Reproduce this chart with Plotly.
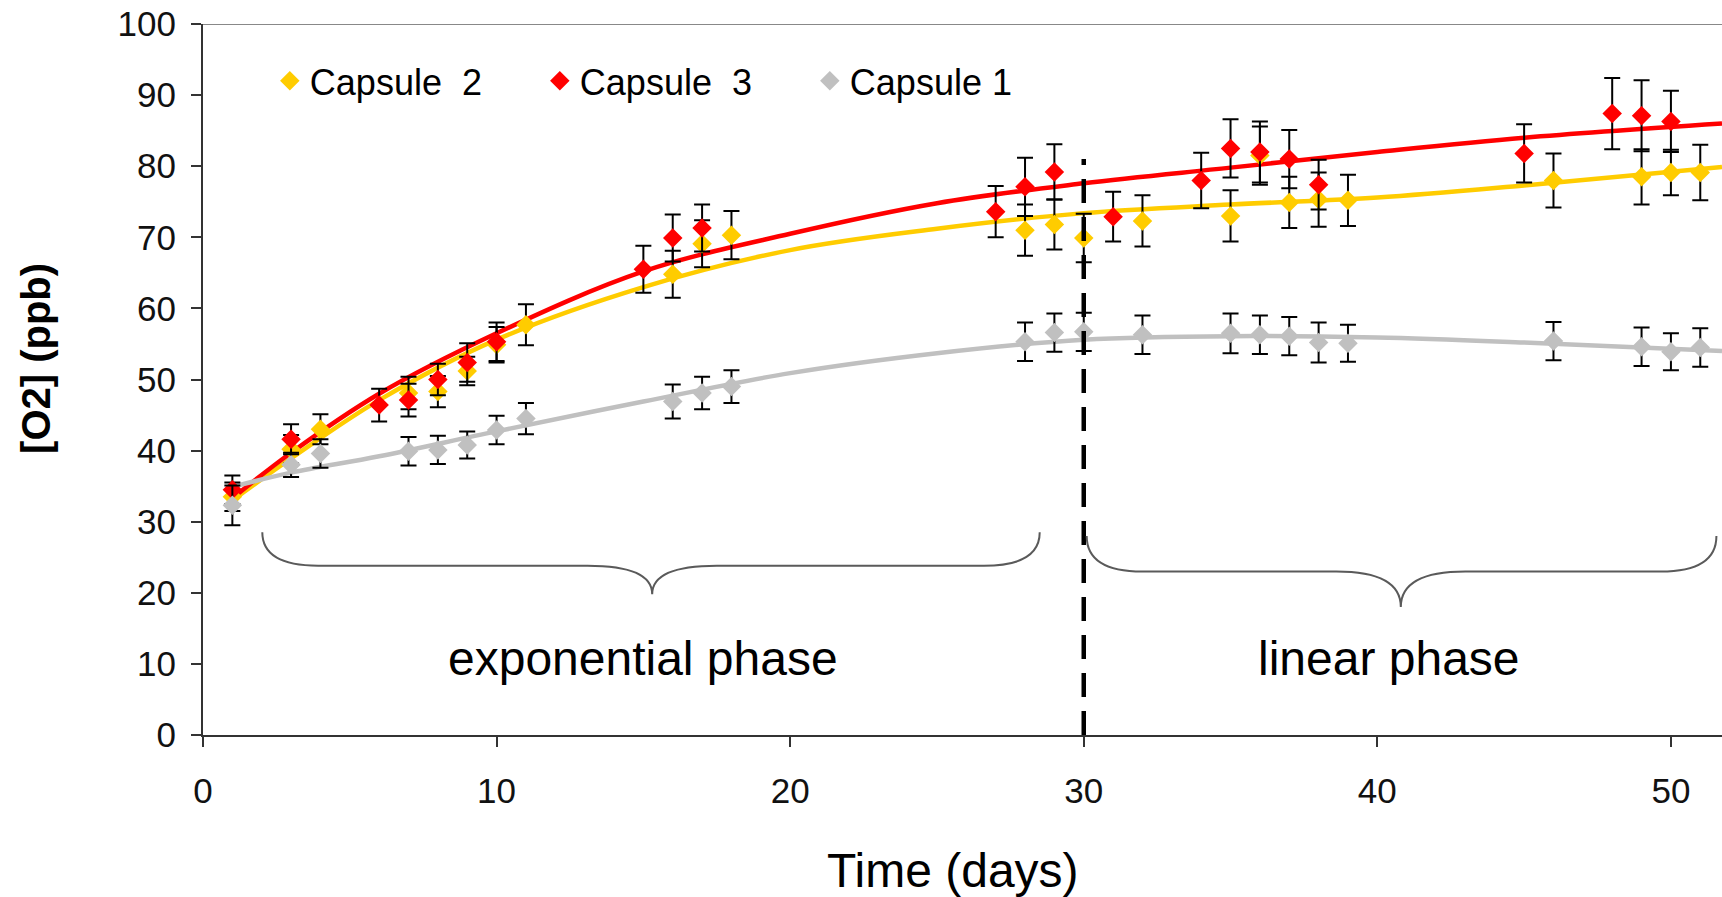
import plotly.graph_objects as go

# ---------------- data ----------------
days_c2 = [1, 3, 4, 7, 8, 9, 10, 11, 16, 17, 18, 28, 29, 30, 32, 35, 36, 37, 38, 39, 46, 49, 50, 51]
o2_c2 = [33.5, 40.2, 43.0, 48.1, 48.3, 51.2, 54.9, 57.7, 64.8, 69.1, 70.3, 71.0, 71.8, 69.9,
         72.3, 73.0, 81.5, 74.9, 75.3, 75.2, 78.0, 78.5, 79.1, 79.1]
err_c2 = [2.0, 2.0, 2.1, 2.3, 2.2, 2.0, 2.5, 2.9, 3.3, 3.3, 3.4, 3.6, 3.5, 3.4,
          3.6, 3.6, 4.1, 3.6, 3.8, 3.6, 3.8, 3.9, 3.2, 3.9]

days_c3 = [1, 3, 6, 7, 8, 9, 10, 15, 16, 17, 27, 28, 29, 31, 34, 35, 36, 37, 38, 45, 48, 49, 50]
o2_c3 = [34.5, 41.6, 46.4, 47.1, 50.0, 52.4, 55.3, 65.5, 69.9, 71.3, 73.6, 77.1, 79.2, 72.9,
         78.0, 82.5, 82.0, 81.0, 77.4, 81.8, 87.4, 87.1, 86.3]
err_c3 = [2.0, 2.1, 2.3, 2.3, 2.2, 2.7, 2.7, 3.3, 3.3, 3.3, 3.6, 4.1, 3.9, 3.5,
          3.9, 4.1, 4.3, 4.1, 3.5, 4.1, 5.0, 5.0, 4.3]

days_c1 = [1, 3, 4, 7, 8, 9, 10, 11, 16, 17, 18, 28, 29, 30, 32, 35, 36, 37, 38, 39, 46, 49, 50, 51]
o2_c1 = [32.3, 38.0, 39.6, 39.9, 40.1, 40.8, 42.9, 44.5, 46.9, 48.1, 49.0, 55.3, 56.6, 56.7,
         56.3, 56.5, 56.3, 56.1, 55.2, 55.1, 55.4, 54.6, 53.9, 54.5]
err_c1 = [2.8, 1.7, 2.0, 2.0, 2.0, 1.9, 2.0, 2.2, 2.4, 2.3, 2.3, 2.7, 2.7, 2.7,
          2.7, 2.8, 2.7, 2.7, 2.8, 2.6, 2.7, 2.7, 2.6, 2.7]

# trend lines
trend_days = [1, 3, 6, 10, 15, 20, 25, 30, 35, 40, 45, 51.74]
trend_c2 = [33.0, 38.9, 47.1, 55.6, 63.0, 68.2, 71.2, 73.4, 74.6, 75.6, 77.3, 79.9]
trend_c3 = [33.3, 39.7, 48.0, 56.5, 65.2, 70.5, 74.8, 77.6, 79.8, 82.0, 84.0, 86.0]
trend_c1 = [34.9, 36.9, 39.2, 42.7, 46.9, 50.9, 53.7, 55.6, 56.1, 55.9, 55.2, 54.0]

names = ["Capsule\u00a0\u00a02", "Capsule\u00a0\u00a03", "Capsule 1"]
colors = ["#FFCC00", "#FF0000", "#C0C0C0"]

x_title = "Time (days)"
y_title = "<b>[O2] (ppb)</b>"

phase_labels = ["exponential phase", "linear phase"]
phase_start = [2.02, 30.1]
phase_end = [28.5, 51.55]
phase_tip = [15.3, 40.8]
phase_label_x = [15.0, 40.4]
phase_change_day = 30.0
phase_change_top = 81.0

FONT = "Liberation Sans, Arial, sans-serif"

fig = go.Figure()

# trend lines
for tx, ty, c in [(trend_days, trend_c2, colors[0]), (trend_days, trend_c3, colors[1]),
                  (trend_days, trend_c1, colors[2])]:
    fig.add_trace(go.Scatter(x=tx, y=ty, mode="lines", line=dict(color=c, width=4.5, shape="spline"),
                             showlegend=False, hoverinfo="skip"))

# data points with error bars
for dx, dy, de, nm, c in [(days_c2, o2_c2, err_c2, names[0], colors[0]),
                          (days_c3, o2_c3, err_c3, names[1], colors[1]),
                          (days_c1, o2_c1, err_c1, names[2], colors[2])]:
    fig.add_trace(go.Scatter(
        x=dx, y=dy, mode="markers", name=nm,
        marker=dict(symbol="diamond", size=15, color=c, line=dict(width=0)),
        error_y=dict(type="data", array=de, visible=True, color="black", thickness=2, width=8),
    ))

# vertical dashed line between phases
fig.add_shape(type="line", xref="x", yref="y", x0=phase_change_day, x1=phase_change_day,
              y0=0, y1=phase_change_top, line=dict(color="black", width=4.5, dash="24px,14px"))

# curly braces
brace_top = [28.5, 28.0]
brace_mid = [23.8, 23.0]
brace_bot = [19.8, 18.0]
for i in range(2):
    x0, x1, xm = phase_start[i], phase_end[i], phase_tip[i]
    yt, ym, yb = brace_top[i], brace_mid[i], brace_bot[i]
    r = 1.9
    rt = 2.2
    path = (f"M {x0},{yt} Q {x0},{ym} {x0 + r},{ym} L {xm - rt},{ym} "
            f"Q {xm},{ym} {xm},{yb} Q {xm},{ym} {xm + rt},{ym} "
            f"L {x1 - r},{ym} Q {x1},{ym} {x1},{yt}")
    fig.add_shape(type="path", xref="x", yref="y", path=path,
                  line=dict(color="#5a5a5a", width=2))
    fig.add_annotation(x=phase_label_x[i], y=10.7, xref="x", yref="y", text=phase_labels[i],
                       showarrow=False, font=dict(family=FONT, size=48, color="black"))

# axis titles
fig.add_annotation(x=0.4937, y=-0.191, xref="paper", yref="paper", text=x_title, showarrow=False,
                   xanchor="center", yanchor="middle", font=dict(family=FONT, size=48, color="black"))
fig.add_annotation(x=-0.1099, y=0.529, xref="paper", yref="paper", text=y_title, showarrow=False,
                   textangle=-90, xanchor="center", yanchor="middle",
                   font=dict(family=FONT, size=40, color="black"))

# top border line
fig.add_shape(type="line", xref="paper", yref="y", x0=0, x1=1, y0=100, y1=100,
              line=dict(color="#888888", width=2))

fig.update_layout(
    width=1722, height=897,
    margin=dict(l=203, r=0, t=24, b=162),
    paper_bgcolor="white", plot_bgcolor="white",
    font=dict(family=FONT, color="black"),
    showlegend=True,
    legend=dict(orientation="h", x=0.044, xanchor="left", y=0.92, yanchor="middle",
                font=dict(family=FONT, size=36, color="black"),
                entrywidth=225, entrywidthmode="pixels", bgcolor="rgba(0,0,0,0)",
                traceorder="normal"),
    xaxis=dict(range=[0, 51.74], tickvals=[0, 10, 20, 30, 40, 50], showgrid=False, zeroline=False,
               showline=True, linecolor="#333333", linewidth=2, ticks="outside", ticklen=10,
               tickwidth=2, tickcolor="#333333", tickfont=dict(family=FONT, size=35, color="#111111"),
               ticklabelstandoff=14),
    yaxis=dict(range=[0, 100], tickvals=list(range(0, 101, 10)), showgrid=False, zeroline=False,
               showline=True, linecolor="#333333", linewidth=2, ticks="outside", ticklen=10,
               tickwidth=2, tickcolor="#333333", tickfont=dict(family=FONT, size=35, color="#111111"),
               ticklabelstandoff=8),
)

fig.write_html("out.html")
